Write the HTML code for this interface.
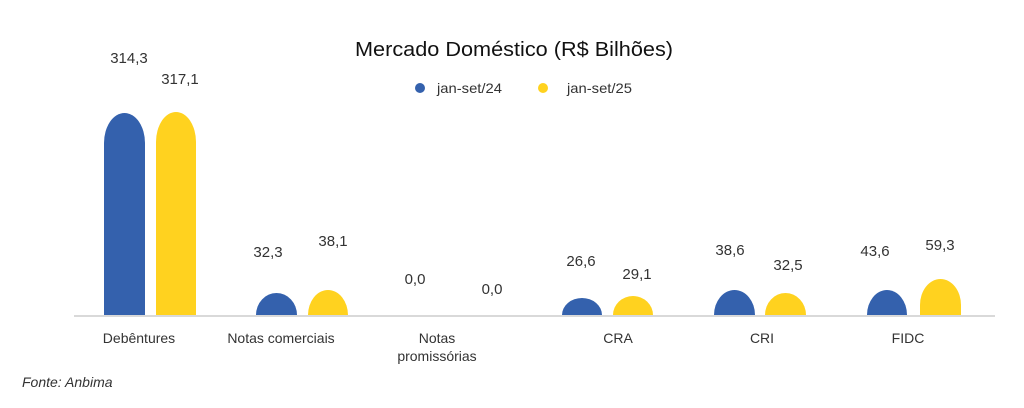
<!DOCTYPE html>
<html><head><meta charset="utf-8"><style>
html,body{margin:0;padding:0;background:#fff;}
svg{display:block;font-family:"Liberation Sans",sans-serif;}
</style></head><body>
<svg width="1024" height="408" viewBox="0 0 1024 408" xmlns="http://www.w3.org/2000/svg">
<rect width="1024" height="408" fill="#fff"/>
<text x="514" y="56" text-anchor="middle" font-size="20" fill="#111" textLength="318" lengthAdjust="spacingAndGlyphs">Mercado Doméstico (R$ Bilhões)</text>
<circle cx="420" cy="88" r="5" fill="#3461ad"/>
<text x="437" y="93" font-size="14" fill="#333" textLength="65" lengthAdjust="spacingAndGlyphs">jan-set/24</text>
<circle cx="543" cy="88" r="5" fill="#ffd21f"/>
<text x="567" y="93" font-size="14" fill="#333" textLength="65" lengthAdjust="spacingAndGlyphs">jan-set/25</text>
<line x1="74" y1="316" x2="995" y2="316" stroke="#d9d9d9" stroke-width="2"/>
<g fill="#3461ad">
<path d="M104,315 V143 A20.5,30 0 0 1 145,143 V315 Z"/>
<path d="M256,315 A20.5,22 0 0 1 297,315 Z"/>
<path d="M562,315 A20,17 0 0 1 602,315 Z"/>
<path d="M714,315 A20.5,25 0 0 1 755,315 Z"/>
<path d="M867,315 A20,25 0 0 1 907,315 Z"/>
</g>
<g fill="#ffd21f">
<path d="M156,315 V142 A20,30 0 0 1 196,142 V315 Z"/>
<path d="M308,315 A20,25 0 0 1 348,315 Z"/>
<path d="M613,315 A20,19 0 0 1 653,315 Z"/>
<path d="M765,315 A20.5,22 0 0 1 806,315 Z"/>
<path d="M920,315 V305 A20.5,26 0 0 1 961,305 V315 Z"/>
</g>
<g font-size="15" fill="#333" text-anchor="middle">
<text x="129" y="63">314,3</text>
<text x="180" y="84">317,1</text>
<text x="268" y="257">32,3</text>
<text x="333" y="246">38,1</text>
<text x="415" y="284">0,0</text>
<text x="492" y="294">0,0</text>
<text x="581" y="266">26,6</text>
<text x="637" y="279">29,1</text>
<text x="730" y="255">38,6</text>
<text x="788" y="270">32,5</text>
<text x="875" y="256">43,6</text>
<text x="940" y="250">59,3</text>
</g>
<g font-size="14" fill="#333" text-anchor="middle">
<text x="139" y="343">Debêntures</text>
<text x="281" y="343">Notas comerciais</text>
<text x="437" y="343">Notas</text>
<text x="437" y="361">promissórias</text>
<text x="618" y="343">CRA</text>
<text x="762" y="343">CRI</text>
<text x="908" y="343">FIDC</text>
</g>
<text x="22" y="387" font-size="14" font-style="italic" fill="#333">Fonte: Anbima</text>
</svg>
</body></html>
